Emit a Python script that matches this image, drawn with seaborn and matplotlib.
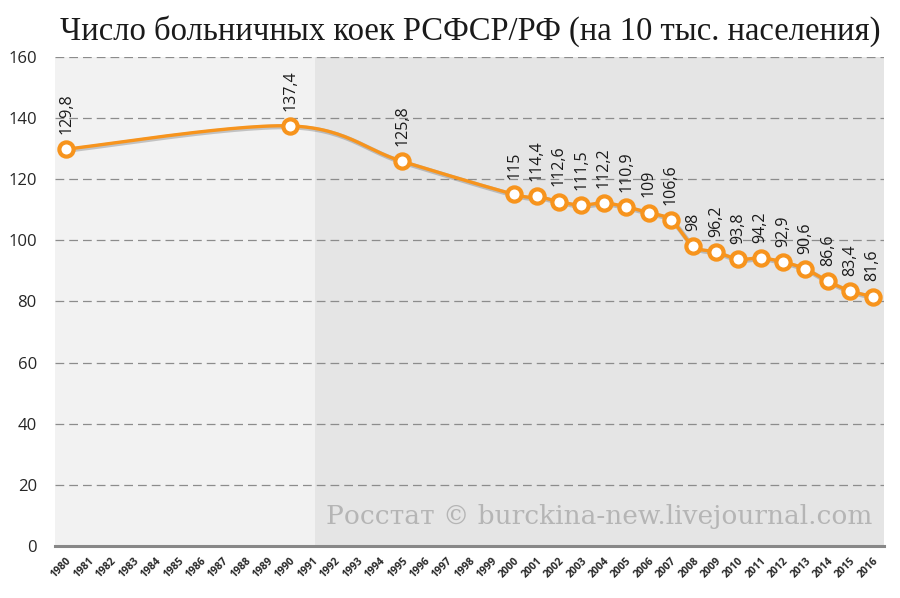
from matplotlib import pyplot as plt
import matplotlib.patheffects as pe
import seaborn as sns
import numpy as np
import pandas as pd

# categories on the x axis
years = list(range(1980, 2017))

# years that have a value, and the values (per 10 000 people)
data_years = [1980, 1990, 1995, 2000, 2001, 2002, 2003, 2004, 2005, 2006,
              2007, 2008, 2009, 2010, 2011, 2012, 2013, 2014, 2015, 2016]
beds = [129.8, 137.4, 125.8, 115, 114.4, 112.6, 111.5, 112.2, 110.9, 109,
        106.6, 98, 96.2, 93.8, 94.2, 92.9, 90.6, 86.6, 83.4, 81.6]

title = "Число больничных коек РСФСР/РФ (на 10 тыс. населения)"
credit = "Росстат © burckina-new.livejournal.com"

orange = "#f7941d"

df = pd.DataFrame({"year": data_years, "beds": beds})
df["pos"] = df["year"] - years[0]


# excel-like smoothed line (bezier through the points)
def smooth(xs, ys, steps=30):
    xs = np.asarray(xs, float)
    ys = np.asarray(ys, float)
    px = np.concatenate([[xs[0]], xs, [xs[-1]]])
    py = np.concatenate([[ys[0]], ys, [ys[-1]]])
    out_x, out_y = [], []
    t = np.linspace(0, 1, steps)
    for i in range(1, len(px) - 2):
        p0 = np.array([px[i], py[i]])
        p3 = np.array([px[i + 1], py[i + 1]])
        c1 = p0 + (p3 - np.array([px[i - 1], py[i - 1]])) / 6
        c2 = p3 - (np.array([px[i + 2], py[i + 2]]) - p0) / 6
        b = ((1 - t) ** 3)[:, None] * p0 + (3 * (1 - t) ** 2 * t)[:, None] * c1 \
            + (3 * (1 - t) * t ** 2)[:, None] * c2 + (t ** 3)[:, None] * p3
        out_x.extend(b[:, 0])
        out_y.extend(b[:, 1])
    return np.array(out_x), np.array(out_y)


sns.set_theme(style="white")
plt.rcParams['font.family'] = ['Open Sans', 'DejaVu Sans']

fig = plt.figure(figsize=(9, 5.98), dpi=100)
ax = fig.add_axes([0.061, 0.087, 0.921, 0.818])

n = len(years)
ax.set_xlim(-0.5, n - 0.5)
ax.set_ylim(0, 160)

# background panels
ax.axvspan(-0.5, 11.1, color="#f2f2f2", zorder=0, lw=0)
ax.axvspan(11.1, n - 0.5, color="#e5e5e5", zorder=0, lw=0)

# gridlines
for v in range(20, 161, 20):
    ax.axhline(v, color="#8c8c8c", lw=0.9, ls=(0, (7, 4)), zorder=1)

# smoothed line
sx, sy = smooth(df["pos"], df["beds"])
shadow = [pe.SimpleLineShadow(offset=(0.8, -0.8), shadow_color="#555555", alpha=0.3, linewidth=3.5),
          pe.Normal()]
ax.plot(sx, sy, color=orange, lw=2.4, zorder=3, solid_capstyle="round", path_effects=shadow)

sns.scatterplot(data=df, x="pos", y="beds", ax=ax, s=105, color="white",
                edgecolor=orange, linewidth=3, zorder=4, legend=False)

# data labels
for p, v in zip(df["pos"], df["beds"]):
    lab = f"{v:g}".replace(".", ",")
    ax.annotate(lab, xy=(p, v), xytext=(0, 11), textcoords="offset points",
                rotation=90, ha="center", va="bottom", fontsize=11.5, color="#1a1a1a",
                family=["Open Sans", "DejaVu Sans"])

# axes
ax.set_xticks(range(n))
ax.set_xticklabels([str(y) for y in years], rotation=45, ha="right",
                   rotation_mode="anchor", fontsize=7.5, fontweight="bold")
ax.set_xticks(np.arange(-0.5, n, 1), minor=True)
ax.tick_params(axis="x", which="major", length=0, pad=7)
ax.tick_params(axis="x", which="minor", length=4, width=1.6, color="#888888", direction="out")
ax.set_yticks(range(0, 161, 20))
ax.tick_params(axis="y", length=0, labelsize=12, pad=13)
for s in ["left", "right", "top"]:
    ax.spines[s].set_visible(False)
ax.spines["bottom"].set_color("#888888")
ax.spines["bottom"].set_linewidth(2.2)
ax.set_xlabel("")
ax.set_ylabel("")

fig.text(0.523, 0.948, title, ha="center", va="center", fontsize=23.5,
         family=["Liberation Serif"], color="#1a1a1a")
ax.text(n - 1.0, 5.5, credit, ha="right", va="bottom", fontsize=19,
        family=["DejaVu Serif"], color="#b5b5b5", zorder=2)

fig.savefig("out.png", dpi=100)
